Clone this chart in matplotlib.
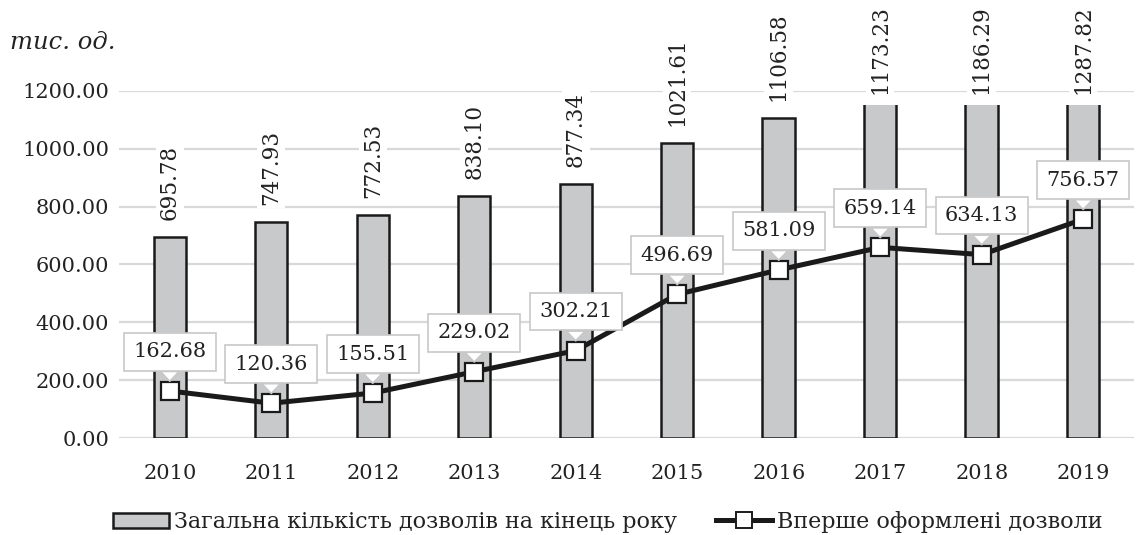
import numpy as np
import matplotlib.pyplot as plt
from matplotlib.patches import Rectangle
from matplotlib.lines import Line2D

plt.rcParams['font.family'] = ['DejaVu Serif']

years = ['2010', '2011', '2012', '2013', '2014', '2015', '2016', '2017', '2018', '2019']
total = [695.78, 747.93, 772.53, 838.10, 877.34, 1021.61, 1106.58, 1173.23, 1186.29, 1287.82]
new = [162.68, 120.36, 155.51, 229.02, 302.21, 496.69, 581.09, 659.14, 634.13, 756.57]
yticks = [0, 200, 400, 600, 800, 1000, 1200]

BAR_TOP = 1151  # bars are cut off here
INK = '#222222'

fig = plt.figure(figsize=(11.4, 5.35), dpi=100)
ax = fig.add_axes([0.1044, 0.1813, 0.8903, 0.6487])

x = np.arange(len(years))

ax.set_ylim(0, 1200)
ax.set_xlim(-0.5, len(years) - 0.5)
ax.set_yticks(yticks)
ax.set_yticklabels(['%.2f' % v for v in yticks])
ax.set_xticks(x)
ax.set_xticklabels(years)
ax.tick_params(axis='both', length=0, labelsize=15, colors=INK)
ax.tick_params(axis='x', pad=19)
ax.tick_params(axis='y', pad=7)
for s in ax.spines.values():
    s.set_visible(False)
ax.grid(axis='y', color='#d9d9d9', lw=1.6, zorder=0)
ax.set_axisbelow(True)

bars = ax.bar(x, total, width=0.32, color='#c8c9cb', edgecolor='#1a1a1a', lw=1.8, zorder=2)
clip = Rectangle((-0.5, 0), len(years), BAR_TOP, transform=ax.transData)
for b in bars:
    b.set_clip_path(clip)

for xi, v in zip(x, total):
    ax.annotate('%.2f' % v, (xi, min(v, 1130)), xytext=(0, 17), textcoords='offset pixels',
                rotation=90, ha='center', va='bottom', fontsize=15.5, color=INK,
                bbox=dict(boxstyle='square,pad=0.15', fc='white', ec='none'),
                zorder=3, annotation_clip=False)

ax.plot(x, new, color='#1a1a1a', lw=3.6, marker='s', markersize=13,
        markerfacecolor='white', markeredgecolor='#1a1a1a', markeredgewidth=1.6, zorder=4)

# callout boxes for the line values
for xi, v in zip(x, new):
    ax.annotate('%.2f' % v, (xi, v), xytext=(0, 39), textcoords='offset pixels',
                ha='center', va='center', fontsize=15, color=INK,
                bbox=dict(boxstyle='square,pad=0.45', fc='white', ec='#c8c8c8', lw=1.2),
                arrowprops=dict(arrowstyle='wedge,tail_width=0.9,shrink_factor=0.5',
                                fc='white', ec='#c8c8c8', lw=1.2, shrinkA=0, shrinkB=7),
                zorder=5)

fig.text(0.009, 0.921, 'тис. од.', fontsize=17.5, style='italic', color=INK,
         ha='left', va='center')

handles = [Rectangle((0, 0), 1, 1, fc='#c8c9cb', ec='#1a1a1a', lw=1.8),
           Line2D([], [], color='#1a1a1a', lw=3.6, marker='s', markersize=11,
                  markerfacecolor='white', markeredgecolor='#1a1a1a', markeredgewidth=1.4)]
fig.legend(handles, ['Загальна кількість дозволів на кінець року', 'Вперше оформлені дозволи'],
           loc='center', bbox_to_anchor=(0.533, 0.024), ncol=2, frameon=False,
           fontsize=16, handlelength=2.55, handleheight=0.68, handletextpad=0.2,
           columnspacing=1.75, labelcolor=INK, borderpad=0, borderaxespad=0)

fig.savefig('out.png', dpi=100)
